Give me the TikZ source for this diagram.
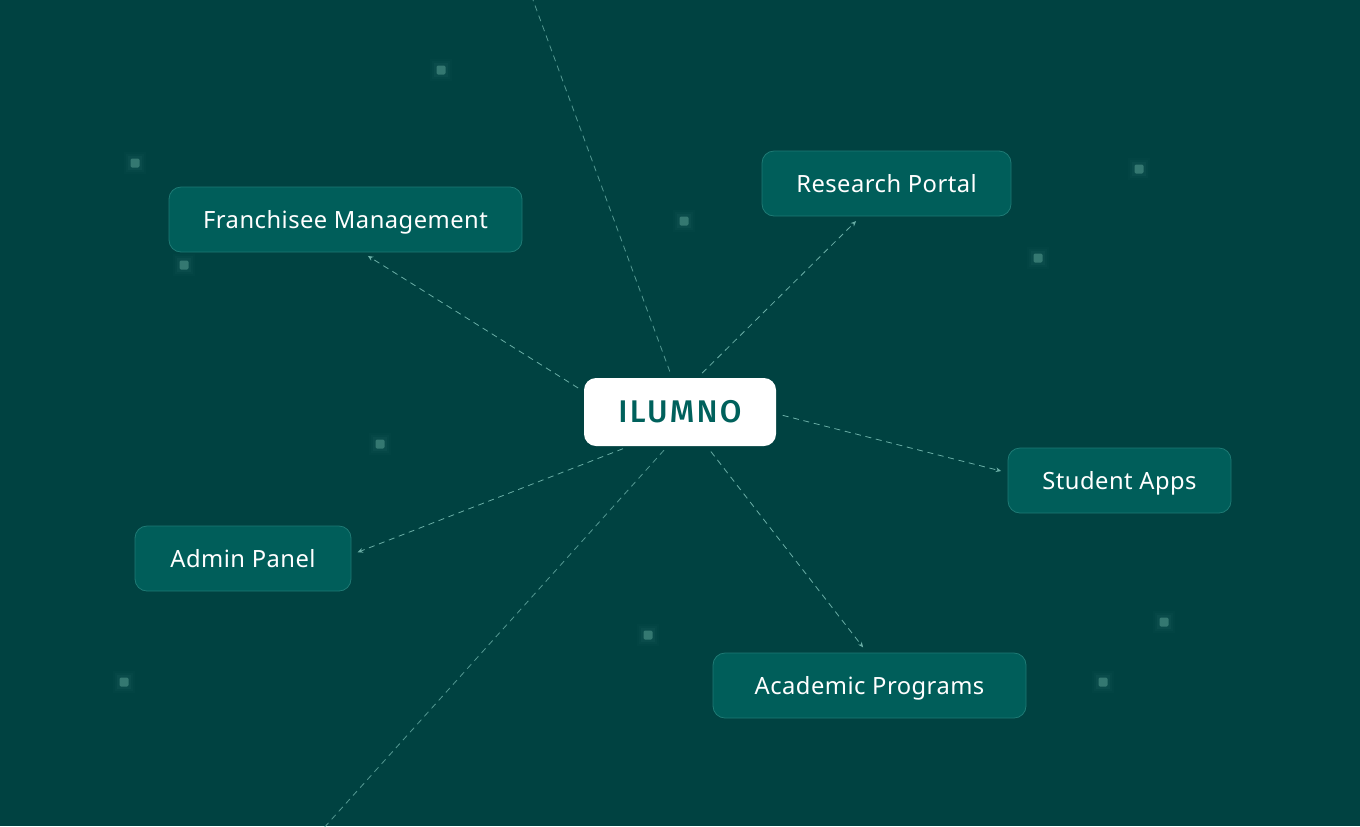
\documentclass[tikz,border=0pt]{standalone}
\usepackage{fontspec}
\setmainfont{Noto Sans}
\newfontfamily\brandfont[LetterSpace=7]{Fira Sans Medium}
\usetikzlibrary{arrows.meta}
\definecolor{bgteal}{HTML}{004241}
\definecolor{boxteal}{HTML}{005E5A}
\definecolor{rimteal}{HTML}{1E7A74}
\definecolor{linkteal}{HTML}{6AAEA6}
\definecolor{dotteal}{HTML}{3C8078}
\definecolor{brandteal}{HTML}{00615C}
\tikzset{
  item/.style={draw=rimteal, line width=0.6pt, fill=boxteal, rounded corners=9pt,
    minimum height=48.75pt, text height=17pt, text depth=4pt, text=white,
    font=\addfontfeature{LetterSpace=2}\fontsize{17.8}{20}\selectfont},
  hub/.style={fill=white, rounded corners=9pt, minimum width=144pt, minimum height=51pt,
    text=brandteal, font=\brandfont\fontsize{23.5}{26}\selectfont},
  link/.style={draw=linkteal, line width=0.6pt, dash pattern=on 4.5pt off 3.5pt,
    shorten <=5pt, shorten >=5pt, -{Stealth[length=4pt,width=3.5pt]}},
  ray/.style={draw=linkteal, line width=0.6pt, dash pattern=on 4.5pt off 3.5pt, draw opacity=0.8}
}
\newcommand\glowdot[1]{%
  \foreach \r/\o in {11/0.04,9/0.06,7/0.1}
    \fill[dotteal, opacity=\o] #1 ++(-\r,-\r) rectangle ++(2*\r,2*\r);
  \fill[dotteal, opacity=0.85, rounded corners=1pt] #1 ++(-4.5,-4.5) rectangle ++(9,9);
}
\begin{document}
\begin{tikzpicture}[x=0.75pt, y=-0.75pt]
  \fill[bgteal] (0,0) rectangle (1360,826);
  \useasboundingbox (0,0) rectangle (1360,826);
  % background dots
  \foreach \p in {(441,70),(135,163),(184,265),(684,221),(1139,169),(1038,258),
                  (380,444),(648,635),(1164,622),(1103,682),(124,682)}
    {\glowdot{\p}}
  % nodes
  \node[hub] (ilumno) at (680,412) {ILUMNO};
  \node[item, minimum width=264.75pt] (franchise) at (345.5,219.5) {Franchisee Management};
  \node[item, minimum width=186.75pt] (research) at (886.5,183.5) {Research Portal};
  \node[item, minimum width=167.25pt] (student) at (1119.5,480.5) {Student Apps};
  \node[item, minimum width=162pt] (admin) at (243,558.5) {Admin Panel};
  \node[item, minimum width=234.75pt] (academic) at (869.5,685.5) {Academic Programs};
  \coordinate (upper) at (533,0);
  \coordinate (lower) at (322,830);
  % connectors
  \draw[link] (ilumno.168) -- (franchise.-63);
  \draw[link] (ilumno.63) -- (research.232);
  \draw[link] (ilumno.-1) -- (student.176);
  \draw[link] (ilumno.214) -- (admin.2);
  \draw[link] (ilumno.-52) -- (academic.94);
  \draw[ray, shorten <=5pt] (ilumno.103) -- (upper);
  \draw[ray, shorten <=4pt] (ilumno.250) -- (lower);
\end{tikzpicture}
\end{document}
